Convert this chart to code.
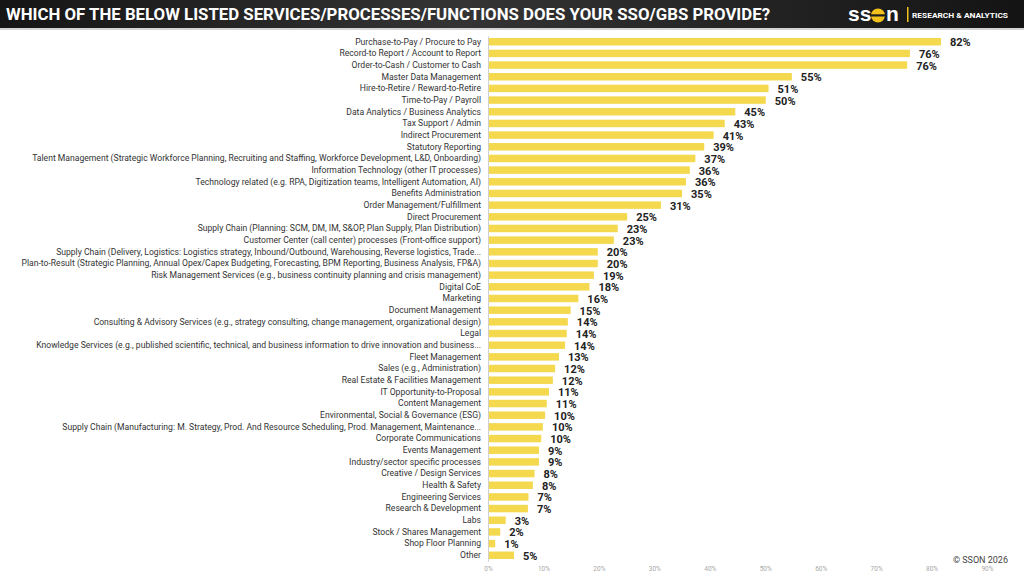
<!DOCTYPE html>
<html>
<head>
<meta charset="utf-8">
<script src="https://cdn.jsdelivr.net/npm/d3@7"></script>
<style>
  body { margin: 0; background: #fff; }
  svg { display: block; }
</style>
</head>
<body>
<div id="chart"></div>
<script>
// Chart data
var categories = [
  "Purchase-to-Pay / Procure to Pay",
  "Record-to Report / Account to Report",
  "Order-to-Cash / Customer to Cash",
  "Master Data Management",
  "Hire-to-Retire / Reward-to-Retire",
  "Time-to-Pay / Payroll",
  "Data Analytics / Business Analytics",
  "Tax Support / Admin",
  "Indirect Procurement",
  "Statutory Reporting",
  "Talent Management (Strategic Workforce Planning, Recruiting and Staffing, Workforce Development, L&D, Onboarding)",
  "Information Technology (other IT processes)",
  "Technology related (e.g. RPA, Digitization teams, Intelligent Automation, AI)",
  "Benefits Administration",
  "Order Management/Fulfillment",
  "Direct Procurement",
  "Supply Chain (Planning: SCM, DM, IM, S&OP, Plan Supply, Plan Distribution)",
  "Customer Center (call center) processes (Front-office support)",
  "Supply Chain (Delivery, Logistics: Logistics strategy, Inbound/Outbound, Warehousing, Reverse logistics, Trade...",
  "Plan-to-Result (Strategic Planning, Annual Opex/Capex Budgeting, Forecasting, BPM Reporting, Business Analysis, FP&A)",
  "Risk Management Services (e.g., business continuity planning and crisis management)",
  "Digital CoE",
  "Marketing",
  "Document Management",
  "Consulting & Advisory Services (e.g., strategy consulting, change management, organizational design)",
  "Legal",
  "Knowledge Services (e.g., published scientific, technical, and business information to drive innovation and business...",
  "Fleet Management",
  "Sales (e.g., Administration)",
  "Real Estate & Facilities Management",
  "IT Opportunity-to-Proposal",
  "Content Management",
  "Environmental, Social & Governance (ESG)",
  "Supply Chain (Manufacturing: M. Strategy, Prod. And Resource Scheduling, Prod. Management, Maintenance...",
  "Corporate Communications",
  "Events Management",
  "Industry/sector specific processes",
  "Creative / Design Services",
  "Health & Safety",
  "Engineering Services",
  "Research & Development",
  "Labs",
  "Stock / Shares Management",
  "Shop Floor Planning",
  "Other"
];

// share of respondents (%)
var values = [
  81.7, 76.1, 75.6, 54.8, 50.6, 50.1, 44.6, 42.7, 40.7, 39.0,
  37.4, 36.4, 35.7, 35.0, 31.2, 25.1, 23.4, 22.7, 19.8, 19.8,
  19.1, 18.3, 16.3, 14.9, 14.4, 14.2, 13.9, 12.8, 12.1, 11.7,
  11.0, 10.6, 10.3, 9.9, 9.6, 9.2, 9.2, 8.4, 8.1, 7.3,
  7.2, 3.2, 2.2, 1.3, 4.7
];

var xTicks = [0, 10, 20, 30, 40, 50, 60, 70, 80, 90];

var title = "WHICH OF THE BELOW LISTED SERVICES/PROCESSES/FUNCTIONS DOES YOUR SSO/GBS PROVIDE?";

// Set height and width for svg
var svgWidth = 1024;
var svgHeight = 577;

var margin = {
  top: 35.9,
  right: 37,
  bottom: 15.9,
  left: 488
};

var width = svgWidth - margin.left - margin.right;
var height = svgHeight - margin.top - margin.bottom;

var barColor = "#f4d94f";

var svg = d3
  .select("#chart")
  .append("svg")
  .attr("width", svgWidth)
  .attr("height", svgHeight);

// Header band
var defs = svg.append("defs");
var grad = defs
  .append("linearGradient")
  .attr("id", "headGrad")
  .attr("x1", "0%")
  .attr("x2", "100%");
grad.append("stop").attr("offset", "0%").attr("stop-color", "#151515");
grad.append("stop").attr("offset", "45%").attr("stop-color", "#343434");
grad.append("stop").attr("offset", "100%").attr("stop-color", "#141414");

svg
  .append("rect")
  .attr("x", 0)
  .attr("y", 0)
  .attr("width", svgWidth)
  .attr("height", 28)
  .attr("fill", "url(#headGrad)");

svg
  .append("rect")
  .attr("x", 0)
  .attr("y", 28)
  .attr("width", svgWidth)
  .attr("height", 2)
  .attr("fill", "#d4d4d4");

svg
  .append("text")
  .attr("x", 6)
  .attr("y", 20)
  .attr("textLength", 764)
  .attr("lengthAdjust", "spacingAndGlyphs")
  .attr("font-family", "Roboto, sans-serif")
  .attr("font-weight", "bold")
  .attr("font-size", "16.5px")
  .attr("fill", "#fff")
  .text(title);

// SSON logo
var logo = svg.append("g").attr("transform", "translate(848, 0)");

logo
  .append("text")
  .attr("x", 0)
  .attr("y", 21)
  .attr("font-family", "Liberation Sans, Arial, sans-serif")
  .attr("font-weight", "bold")
  .attr("font-size", "21px")
  .attr("fill", "#fff")
  .text("ss");

logo
  .append("circle")
  .attr("cx", 30)
  .attr("cy", 15.5)
  .attr("r", 7)
  .attr("fill", "#f2c21b");

logo
  .append("rect")
  .attr("x", 22)
  .attr("y", 14.3)
  .attr("width", 16)
  .attr("height", 2.2)
  .attr("fill", "#1c1c1c");

logo
  .append("text")
  .attr("x", 38)
  .attr("y", 21)
  .attr("font-family", "Liberation Sans, Arial, sans-serif")
  .attr("font-weight", "bold")
  .attr("font-size", "21px")
  .attr("fill", "#fff")
  .text("n");

logo
  .append("rect")
  .attr("x", 59)
  .attr("y", 7)
  .attr("width", 1.5)
  .attr("height", 15)
  .attr("fill", "#f2c21b");

logo
  .append("text")
  .attr("x", 64)
  .attr("y", 18)
  .attr("textLength", 96)
  .attr("lengthAdjust", "spacingAndGlyphs")
  .attr("font-family", "Roboto, sans-serif")
  .attr("font-weight", "bold")
  .attr("font-size", "8px")
  .attr("fill", "#fff")
  .text("RESEARCH & ANALYTICS");

// Chart group
var chartGroup = svg
  .append("g")
  .attr("transform", `translate(${margin.left}, ${margin.top})`);

// Scales
var xLinearScale = d3
  .scaleLinear()
  .domain([0, 90])
  .range([0, 499]);

var yBandScale = d3
  .scaleBand()
  .domain(categories)
  .range([0, height])
  .paddingInner(0.36)
  .paddingOuter(0.18);

// y axis: the category labels and the thin vertical line
var leftAxis = d3
  .axisLeft(yBandScale)
  .tickSize(0)
  .tickPadding(7);

var yAxis = chartGroup.append("g").classed("y-axis", true).call(leftAxis);

yAxis.select(".domain").attr("stroke", "#cfcfcf").attr("stroke-width", 1);

yAxis
  .selectAll("text")
  .attr("font-family", "Roboto, sans-serif")
  .attr("font-size", "8.6px")
  .attr("fill", "#333");

// x axis: percent labels only
var bottomAxis = d3
  .axisBottom(xLinearScale)
  .tickValues(xTicks)
  .tickSize(0)
  .tickPadding(0)
  .tickFormat(d => d + "%");

var xAxis = chartGroup
  .append("g")
  .classed("x-axis", true)
  .attr("transform", `translate(0, ${height + 5.5})`)
  .call(bottomAxis);

xAxis.select(".domain").remove();

xAxis
  .selectAll("text")
  .attr("font-family", "Roboto, sans-serif")
  .attr("font-size", "6.5px")
  .attr("fill", "#a8a8a8");

// Bars
var rows = categories.map((c, i) => ({ category: c, value: values[i] }));

chartGroup
  .selectAll("rect.bar")
  .data(rows)
  .enter()
  .append("rect")
  .classed("bar", true)
  .attr("x", 1)
  .attr("y", d => yBandScale(d.category))
  .attr("width", d => xLinearScale(d.value) - 1)
  .attr("height", yBandScale.bandwidth())
  .attr("fill", barColor);

// Value labels
chartGroup
  .selectAll("text.value")
  .data(rows)
  .enter()
  .append("text")
  .classed("value", true)
  .attr("x", d => xLinearScale(d.value) + 9)
  .attr("y", d => yBandScale(d.category) + yBandScale.bandwidth() / 2 + 4.5)
  .attr("font-family", "Roboto, sans-serif")
  .attr("font-weight", "bold")
  .attr("font-size", "11px")
  .attr("fill", "#222")
  .text(d => Math.round(d.value) + "%");

// Copyright note
svg
  .append("text")
  .attr("x", 1008)
  .attr("y", 563)
  .attr("text-anchor", "end")
  .attr("font-family", "Roboto, sans-serif")
  .attr("font-size", "9px")
  .attr("fill", "#444")
  .text("© SSON 2026");
</script>
</body>
</html>
